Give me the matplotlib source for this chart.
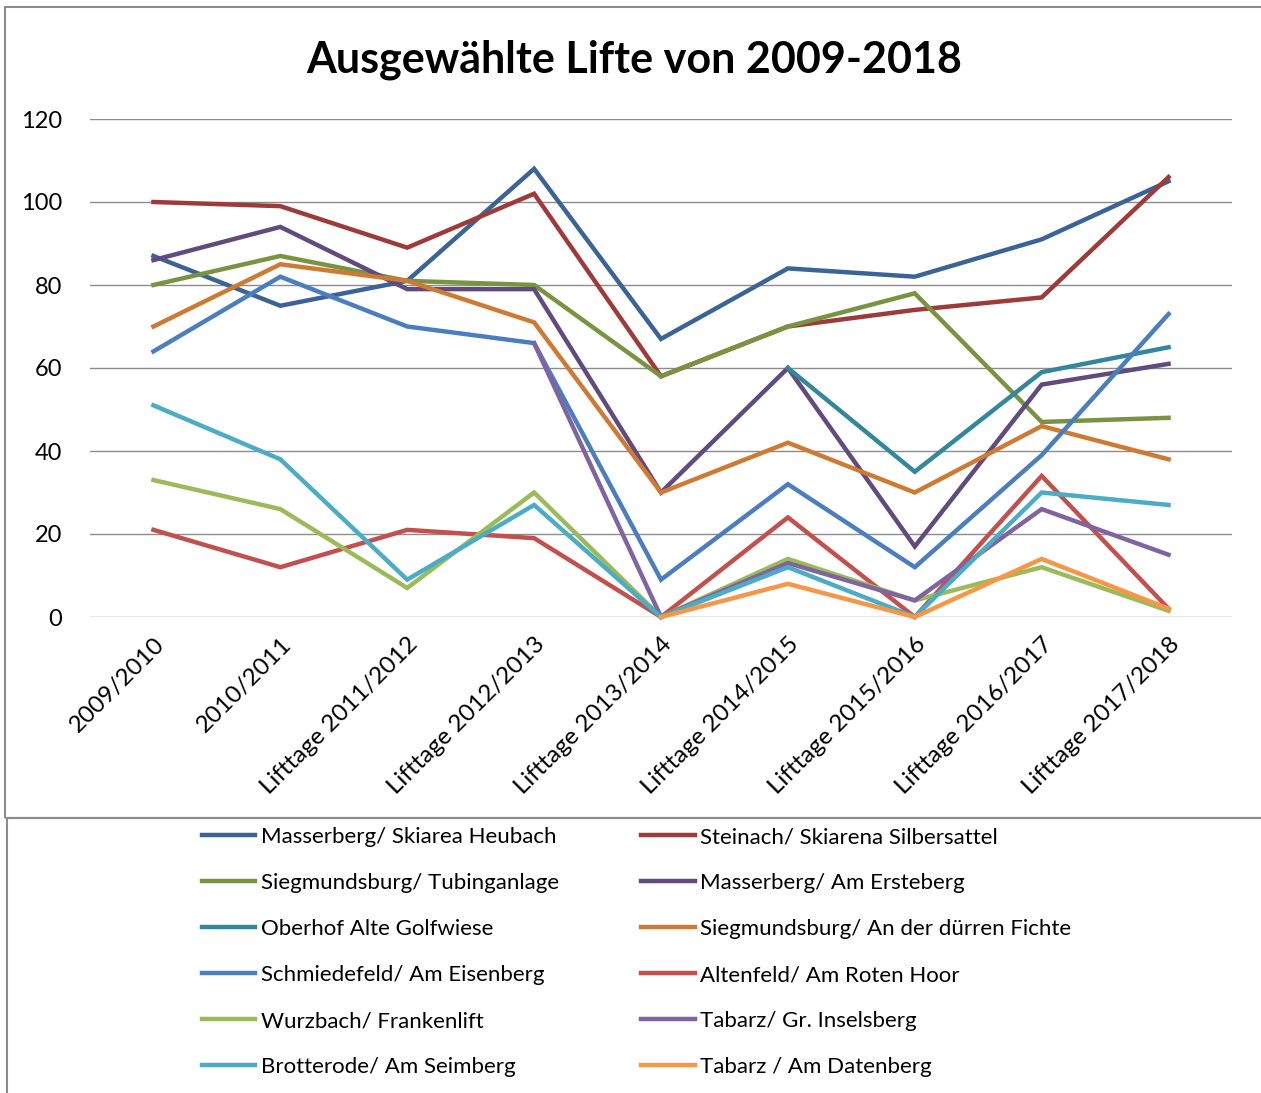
import numpy as np
import matplotlib
matplotlib.use("Agg")
import matplotlib.pyplot as plt
from matplotlib.patches import Rectangle

nan = np.nan
categories = ["2009/2010", "2010/2011", "Lifttage 2011/2012", "Lifttage 2012/2013",
              "Lifttage 2013/2014", "Lifttage 2014/2015", "Lifttage 2015/2016",
              "Lifttage 2016/2017", "Lifttage 2017/2018"]

masserberg_heubach = [87, 75, 81, 108, 67, 84, 82, 91, 105]
steinach_silbersattel = [100, 99, 89, 102, 58, 70, 74, 77, 106]
siegmundsburg_tubing = [80, 87, 81, 80, 58, 70, 78, 47, 48]
masserberg_ersteberg = [86, 94, 79, 79, 30, 60, 17, 56, 61]
oberhof_golfwiese = [nan, nan, nan, nan, nan, 60, 35, 59, 65]
siegmundsburg_fichte = [70, 85, 81, 71, 30, 42, 30, 46, 38]
schmiedefeld_eisenberg = [64, 82, 70, 66, 9, 32, 12, 39, 73]
altenfeld_roten_hoor = [21, 12, 21, 19, 0, 24, 0, 34, 2]
wurzbach_frankenlift = [33, 26, 7, 30, 0, 14, 4, 12, 1.5]
tabarz_inselsberg = [nan, nan, nan, 66, 0, 13, 4, 26, 15]
brotterode_seimberg = [51, 38, 9, 27, 0, 12, 0, 30, 27]
tabarz_datenberg = [nan, nan, nan, nan, 0, 8, 0, 14, 2]

series_names = ["Masserberg/ Skiarea Heubach", "Steinach/ Skiarena Silbersattel",
                "Siegmundsburg/ Tubinganlage", "Masserberg/ Am Ersteberg",
                "Oberhof Alte Golfwiese", "Siegmundsburg/ An der dürren Fichte",
                "Schmiedefeld/ Am Eisenberg", "Altenfeld/ Am Roten Hoor",
                "Wurzbach/ Frankenlift", "Tabarz/ Gr. Inselsberg",
                "Brotterode/ Am Seimberg", "Tabarz / Am Datenberg"]
series_values = [masserberg_heubach, steinach_silbersattel, siegmundsburg_tubing,
                 masserberg_ersteberg, oberhof_golfwiese, siegmundsburg_fichte,
                 schmiedefeld_eisenberg, altenfeld_roten_hoor, wurzbach_frankenlift,
                 tabarz_inselsberg, brotterode_seimberg, tabarz_datenberg]
colors = ["#3A6398", "#9E3B38", "#789440", "#614A7D", "#33879D", "#CF7A33",
          "#4A7EBF", "#C3504D", "#9BBB59", "#8064A2", "#4BACC6", "#F79646"]

plt.rcParams['font.family'] = ['Lato', 'DejaVu Sans']

W, H = 1261, 1093
fig = plt.figure(figsize=(W / 100, H / 100), dpi=100)

# frames
fig.patches.append(Rectangle((5 / W, 1 - 818 / H), (W + 10) / W, (818 - 7) / H,
                             transform=fig.transFigure, fill=False, edgecolor="#8c8c8c", lw=1.5))
fig.patches.append(Rectangle((7 / W, -0.05), (W + 10) / W, (1 - 818 / H) + 0.05,
                             transform=fig.transFigure, fill=False, edgecolor="#8c8c8c", lw=1.5))

ax = fig.add_axes([90 / W, 1 - 617 / H, (1232 - 90) / W, (617 - 119) / H])
x = np.arange(len(categories))
lines = []
for name, vals, c in zip(series_names, series_values, colors):
    ln, = ax.plot(x, vals, color=c, lw=3.2, label=name, solid_joinstyle='miter', clip_on=False)
    lines.append(ln)

ax.set_xlim(-0.5, len(categories) - 0.5)
ax.set_ylim(0, 120)
ax.set_yticks(np.arange(0, 121, 20))
ax.grid(axis='y', color="#8c8c8c", lw=1.0)
ax.set_axisbelow(True)
for s in ax.spines.values():
    s.set_visible(False)
ax.tick_params(axis='both', length=0)
ax.tick_params(axis='y', pad=20, labelsize=17)
ax.set_xticks(x)
ax.set_xticklabels(categories, rotation=45, ha='right', rotation_mode='anchor')
ax.tick_params(axis='x', pad=12, labelsize=17.5)

fig.text(0.503, 1 - 60 / H, "Ausgewählte Lifte von 2009-2018", ha='center', va='center',
         fontsize=31, fontweight='bold')

order = [0, 2, 4, 6, 8, 10, 1, 3, 5, 7, 9, 11]
leg = fig.legend([lines[i] for i in order], [series_names[i] for i in order],
                 ncol=2, loc='upper left', bbox_to_anchor=(202 / W, 1 - 827 / H),
                 frameon=False, fontsize=16, handlelength=2.4, handletextpad=0.25,
                 labelspacing=1.17, columnspacing=3.7, borderpad=0, borderaxespad=0)
for l in leg.get_lines():
    l.set_linewidth(3.2)

fig.savefig("out.png", dpi=100)
